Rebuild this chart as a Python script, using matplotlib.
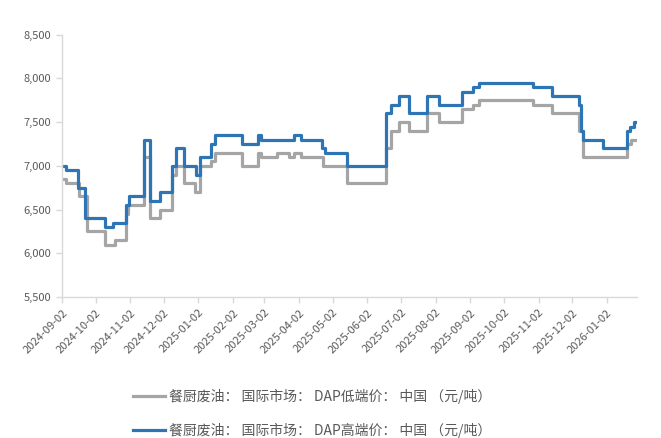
import pandas as pd
import matplotlib
matplotlib.use('Agg')
import matplotlib.pyplot as plt
import matplotlib.dates as mdates
from matplotlib.ticker import FuncFormatter, FixedLocator

# change points of the step series (date, price)
low_dates = ['2024-09-02', '2024-09-06', '2024-09-17', '2024-09-24', '2024-10-10', '2024-10-19',
             '2024-10-29', '2024-10-31', '2024-11-14', '2024-11-20', '2024-11-29', '2024-12-09',
             '2024-12-13', '2024-12-20', '2024-12-30', '2025-01-03', '2025-01-13', '2025-01-17',
             '2025-02-10', '2025-02-24', '2025-02-27', '2025-03-13', '2025-03-24', '2025-03-28',
             '2025-04-04', '2025-04-23', '2025-05-15', '2025-06-19', '2025-06-23', '2025-06-30',
             '2025-07-09', '2025-07-25', '2025-08-05', '2025-08-26', '2025-09-04', '2025-09-10',
             '2025-10-28', '2025-11-14', '2025-12-08', '2025-12-12', '2026-01-20', '2026-01-24']
low_values = [6850, 6800, 6650, 6250, 6100, 6150,
              6450, 6550, 7100, 6400, 6500, 6900,
              7000, 6800, 6700, 7000, 7050, 7150,
              7000, 7150, 7100, 7150, 7100, 7150,
              7100, 7000, 6800, 7200, 7400, 7500,
              7400, 7600, 7500, 7650, 7700, 7750,
              7700, 7600, 7400, 7100, 7250, 7300]

high_dates = ['2024-09-02', '2024-09-06', '2024-09-16', '2024-09-23', '2024-10-10', '2024-10-18',
              '2024-10-29', '2024-11-01', '2024-11-14', '2024-11-20', '2024-11-29', '2024-12-09',
              '2024-12-13', '2024-12-20', '2024-12-31', '2025-01-03', '2025-01-13', '2025-01-17',
              '2025-02-10', '2025-02-24', '2025-02-27', '2025-03-28', '2025-04-04', '2025-04-22',
              '2025-04-25', '2025-05-15', '2025-06-19', '2025-06-23', '2025-06-30', '2025-07-09',
              '2025-07-25', '2025-08-05', '2025-08-26', '2025-09-04', '2025-09-10', '2025-10-28',
              '2025-11-14', '2025-12-08', '2025-12-10', '2025-12-12', '2025-12-30', '2026-01-20',
              '2026-01-23', '2026-01-26']
high_values = [7000, 6950, 6750, 6400, 6300, 6350,
               6550, 6650, 7300, 6600, 6700, 7000,
               7200, 7000, 6900, 7100, 7250, 7350,
               7250, 7350, 7300, 7350, 7300, 7200,
               7150, 7000, 7600, 7700, 7800, 7600,
               7800, 7700, 7850, 7900, 7950, 7900,
               7800, 7700, 7400, 7300, 7200, 7400,
               7450, 7500]

last_date = '2026-01-29'
y_ticks = [5500, 6000, 6500, 7000, 7500, 8000, 8500]

label_low = '餐厨废油： 国际市场： DAP低端价： 中国 （元/吨）'
label_high = '餐厨废油： 国际市场： DAP高端价： 中国 （元/吨）'

plt.rcParams['font.family'] = ['Noto Sans CJK SC', 'DejaVu Sans']

fig = plt.figure(figsize=(6.61, 4.38), dpi=100)
ax = fig.add_axes([0.0938, 0.3219, 0.8699, 0.5989])

x_low = pd.to_datetime(low_dates + [last_date])
x_high = pd.to_datetime(high_dates + [last_date])
ax.step(x_low, low_values + [low_values[-1]], where='post', color='#A5A5A5', lw=2.3,
        label=label_low)
ax.step(x_high, high_values + [high_values[-1]], where='post', color='#2E75B6', lw=2.3,
        label=label_high)

ax.set_xlim(pd.Timestamp(low_dates[0]), pd.Timestamp(last_date))
ax.set_ylim(5500, 8500)
ax.yaxis.set_major_locator(FixedLocator(y_ticks))
ax.yaxis.set_major_formatter(FuncFormatter(lambda v, p: f'{int(v):,}'))
ax.xaxis.set_major_locator(mdates.MonthLocator(bymonthday=2))
ax.xaxis.set_major_formatter(mdates.DateFormatter('%Y-%m-%d'))

for s in ['top', 'right']:
    ax.spines[s].set_visible(False)
for s in ['left', 'bottom']:
    ax.spines[s].set_color('#D9D9D9')
    ax.spines[s].set_linewidth(1.0)
ax.tick_params(axis='both', colors='#D9D9D9', labelcolor='#595959', labelsize=8,
               length=4, width=1.0, direction='out')
plt.setp(ax.get_xticklabels(), rotation=45, ha='right', rotation_mode='anchor')

leg = fig.legend(loc='upper left', bbox_to_anchor=(0.201, 0.112), ncol=1, frameon=False,
                 fontsize=10, handlelength=2.3, labelcolor='#595959', labelspacing=1.32,
                 handletextpad=0.3, borderaxespad=0, borderpad=0)

fig.savefig('out.png', dpi=100)
